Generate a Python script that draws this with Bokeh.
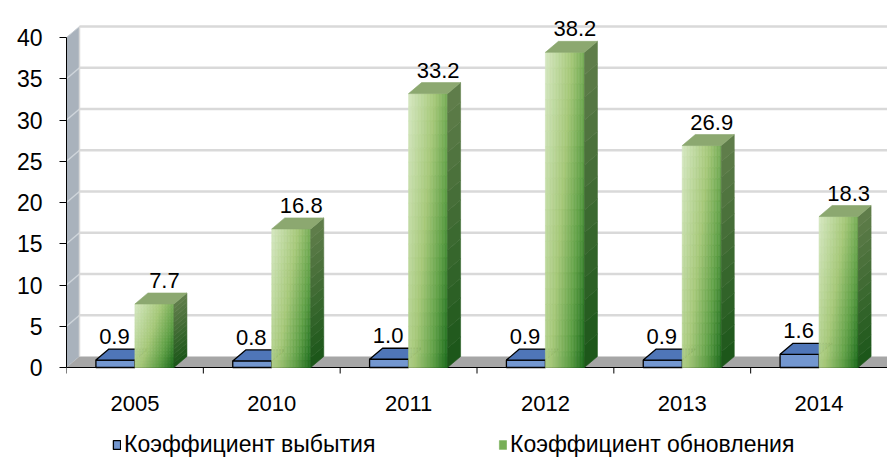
import numpy as np
from bokeh.plotting import figure
from bokeh.models import Range1d, FixedTicker, Legend, LegendItem
from bokeh.core.properties import value
from bokeh.embed import file_html
from bokeh.resources import INLINE

# ---------------- data ----------------
years = ["2005", "2010", "2011", "2012", "2013", "2014"]
retire = [0.9, 0.8, 1.0, 0.9, 0.9, 1.6]      # Коэффициент выбытия
renew = [7.7, 16.8, 33.2, 38.2, 26.9, 18.3]  # Коэффициент обновления
y_ticks = [0, 5, 10, 15, 20, 25, 30, 35, 40]
series_names = ["Коэффициент выбытия", "Коэффициент обновления"]

# ---------------- geometry ----------------
W, H = 887, 457
BL = 66
FW = W - BL
FH = H
Z = 367                      # canvas y of the value 0
PX_Y = 8.25
Y0 = -(FH - Z) / PX_Y
Y1 = Z / PX_Y
n = len(years)
PX_X = FW / n
DX = 13 / PX_X
DY = 11 / PX_Y
BW = 39 / PX_X
FONT = "Liberation Sans"
TOP = y_ticks[-1]

p = figure(width=W, height=H, x_range=Range1d(0, n), y_range=Range1d(Y0, Y1),
           output_backend="svg", toolbar_location=None, x_axis_location=None,
           min_border_left=BL, min_border_right=0, min_border_top=0,
           min_border_bottom=0)
p.outline_line_color = None
p.grid.visible = False
p.background_fill_color = "white"

# y axis
yax = p.yaxis[0]
yax.ticker = FixedTicker(ticks=y_ticks)
yax.bounds = (y_ticks[0], TOP)
yax.axis_line_color = "black"
yax.axis_line_width = 1
yax.major_tick_out = 7
yax.major_tick_in = 0
yax.major_tick_line_color = "black"
yax.minor_tick_line_color = None
yax.major_label_text_font = FONT
yax.major_label_text_font_size = "23px"
yax.major_label_text_color = "black"
yax.major_label_standoff = 17

centers = [i + 0.5 for i in range(n)]


def lerp(stops, t):
    for (t0, c0), (t1, c1) in zip(stops[:-1], stops[1:]):
        if t <= t1:
            f = (t - t0) / (t1 - t0) if t1 > t0 else 0
            c = [int(round(a + (b - a) * f)) for a, b in zip(c0, c1)]
            return "#%02x%02x%02x" % tuple(c)
    return "#%02x%02x%02x" % stops[-1][1]


# ---------------- walls ----------------
p.patch(x=[0, DX, DX, 0], y=[0, DY, TOP + DY, TOP],
        fill_color="#a9b2bc", line_color="#c4cad0", line_width=1)
sv = y_ticks[1:-1]
p.segment(x0=[0] * len(sv), y0=sv, x1=[DX] * len(sv), y1=[v + DY for v in sv],
          line_color="#cfd5db", line_width=1.5)
p.patch(x=[0, DX, n, n], y=[0, DY, DY, 0], fill_color="#a6a6a6", line_color=None)
gv = y_ticks[1:]
p.segment(x0=[DX] * len(gv), y0=[v + DY for v in gv], x1=[n] * len(gv),
          y1=[v + DY for v in gv], line_color="#d9d9d9", line_width=2.5)
p.segment(x0=[DX], y0=[DY], x1=[DX], y1=[TOP + DY], line_color="#d9d9d9", line_width=1.5)

# front floor edge (x axis line) and category boundary ticks
p.segment(x0=[0], y0=[0], x1=[n], y1=[0], line_color="black", line_width=1.2)
bx = list(range(n + 1))
p.segment(x0=bx, y0=[0] * len(bx), x1=bx, y1=[-6 / PX_Y] * len(bx),
          line_color="black", line_width=1)

# category labels
p.text(x=centers, y=[-36 / PX_Y] * n, text=years, text_align="center",
       text_baseline="middle", text_font=value(FONT), text_font_size="22px",
       text_color="black")

# ---------------- blue bars ----------------
bl = [c - BW for c in centers]
r_blue = p.quad(left=bl, right=centers, bottom=[0] * n, top=retire,
                fill_color="#7397d0", line_color="black", line_width=1.3)
p.patches(xs=[[c - BW, c, c + DX, c - BW + DX] for c in centers],
          ys=[[v, v, v + DY, v + DY] for v in retire],
          fill_color="#4f76b8", line_color="black", line_width=1.3)

# ---------------- green bars ----------------
front_stops = [(0.0, (214, 232, 194)), (0.45, (165, 200, 120)),
               (0.75, (95, 160, 70)), (1.0, (28, 108, 28))]
side_stops = [(0.0, (98, 126, 76)), (1.0, (26, 86, 24))]
NX, NY, NS = 26, 20, 14
qL, qR, qT, qB, qC = [], [], [], [], []
for c, v in zip(centers, renew):
    for jx in range(NX):
        for jy in range(NY):
            qL.append(c + BW * jx / NX)
            qR.append(c + BW * (jx + 1) / NX)
            qT.append(v * (1 - jy / NY))
            qB.append(v * (1 - (jy + 1) / NY))
            t = 0.65 * (jx + 0.5) / NX + 0.35 * (jy + 0.5) / NY
            qC.append(lerp(front_stops, t))
r_green = p.quad(left=qL, right=qR, top=qT, bottom=qB, fill_color=qC,
                 line_color=qC, line_width=0.6)
# legend swatch index: a mid-tone cell of the first green bar
green_idx = int(NX * 0.7) * NY + NY // 2

sX, sY, sC = [], [], []
for c, v in zip(centers, renew):
    x0 = c + BW
    for k in range(NS):
        lo = v * k / NS
        hi = v * (k + 1) / NS
        sX.append([x0, x0 + DX, x0 + DX, x0])
        sY.append([lo, lo + DY, hi + DY, hi])
        sC.append(lerp(side_stops, 1 - (k + 0.5) / NS))
p.patches(xs=sX, ys=sY, fill_color=sC, line_color=sC, line_width=0.6)

p.patches(xs=[[c, c + BW, c + BW + DX, c + DX] for c in centers],
          ys=[[v, v, v + DY, v + DY] for v in renew],
          fill_color="#8ca870", line_color="#8ca870", line_width=0.6)

# ---------------- value labels ----------------
lab_gap = 5 / PX_Y
p.text(x=[c - BW / 2 - 1 / PX_X for c in centers], y=[v + DY + lab_gap for v in retire],
       text=["%.1f" % v for v in retire], text_align="center", text_baseline="bottom",
       text_font=value(FONT), text_font_size="22px", text_color="black")
p.text(x=[c + BW / 2 + 10 / PX_X for c in centers], y=[v + DY + lab_gap for v in renew],
       text=["%.1f" % v for v in renew], text_align="center", text_baseline="bottom",
       text_font=value(FONT), text_font_size="22px", text_color="black")


# ---------------- legend ----------------
def make_legend(label, rend, idx, loc):
    return Legend(items=[LegendItem(label=label, renderers=[rend], index=idx)],
                  location=loc, orientation="horizontal", glyph_width=9,
                  glyph_height=11, label_standoff=3, padding=0, margin=0, spacing=0,
                  border_line_color=None, background_fill_alpha=0,
                  label_text_font=FONT, label_text_font_size="23px",
                  label_text_color="black", label_height=22)


p.add_layout(make_legend(series_names[0], r_blue, 0, (46, -1)))
p.add_layout(make_legend(series_names[1], r_green, green_idx, (432, -1)))

open("out.html", "w").write(file_html(p, INLINE))
